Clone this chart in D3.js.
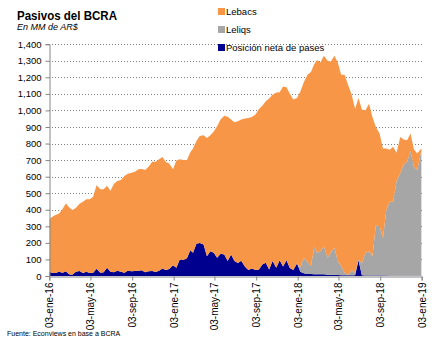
<!DOCTYPE html>
<html>
<head>
<meta charset="utf-8">
<title>Pasivos del BCRA</title>
<script src="https://cdn.jsdelivr.net/npm/d3@7"></script>
<style>
body { margin: 0; background: #fff; font-family: "Liberation Sans", Arial, sans-serif; }
</style>
</head>
<body>
<svg id="chart" width="445" height="340"></svg>
<script>
// fechas de muestreo (1, 11 y 21 de cada mes)
const dates = [
  "2016-01-04","2016-01-11","2016-01-21","2016-02-01","2016-02-11","2016-02-21",
  "2016-03-01","2016-03-11","2016-03-21","2016-04-01","2016-04-11","2016-04-21",
  "2016-05-01","2016-05-11","2016-05-21","2016-06-01","2016-06-11","2016-06-21",
  "2016-07-01","2016-07-11","2016-07-21","2016-08-01","2016-08-11","2016-08-21",
  "2016-09-01","2016-09-11","2016-09-21","2016-10-01","2016-10-11","2016-10-21",
  "2016-11-01","2016-11-11","2016-11-21","2016-12-01","2016-12-11","2016-12-21",
  "2017-01-01","2017-01-11","2017-01-21","2017-02-01","2017-02-11","2017-02-21",
  "2017-03-01","2017-03-11","2017-03-21","2017-04-01","2017-04-11","2017-04-21",
  "2017-05-01","2017-05-11","2017-05-21","2017-06-01","2017-06-11","2017-06-21",
  "2017-07-01","2017-07-11","2017-07-21","2017-08-01","2017-08-11","2017-08-21",
  "2017-09-01","2017-09-11","2017-09-21","2017-10-01","2017-10-11","2017-10-21",
  "2017-11-01","2017-11-11","2017-11-21","2017-12-01","2017-12-11","2017-12-21",
  "2018-01-01","2018-01-11","2018-01-21","2018-02-01","2018-02-11","2018-02-21",
  "2018-03-01","2018-03-11","2018-03-21","2018-04-01","2018-04-11","2018-04-21",
  "2018-05-01","2018-05-11","2018-05-21","2018-06-01","2018-06-11","2018-06-21",
  "2018-07-01","2018-07-11","2018-07-21","2018-08-01","2018-08-11","2018-08-21",
  "2018-09-01","2018-09-11","2018-09-21","2018-10-01","2018-10-11","2018-10-21",
  "2018-11-01","2018-11-11","2018-11-21","2018-12-01","2018-12-11","2018-12-21",
  "2019-01-02"
];

// miles de millones de AR$
const lebacs = [
  319,338,350,353,385,411, 405,391,385,407,430,437, 445,458,504,504,502,495,
  489,533,542,554,584,586, 596,600,612,612,618,632, 660,666,673,672,652,638,
  580,648,605,603,593,593, 630,620,645,660,713,700, 732,795,810,838,872,815,
  838,857,853,896,919,914, 939,968,958,976,1032,1004, 1058,1015,1087,1045,1052,1030,
  1000,1060,1060,1130,1172,1105, 1165,1140,1150,1190,1150,1160, 1200,1155,1195,1142,1059,992,
  975,930,860,890,840,595, 560,540,370,313,331,170, 220,150,130,105,105,100,
  11
];
const leliqs = [
  0,0,0,0,0,0, 0,0,0,0,0,0, 0,0,0,0,0,0,
  0,0,0,0,0,0, 0,0,0,0,0,0, 0,0,0,0,0,0,
  0,0,0,0,0,0, 0,0,0,0,0,0, 0,0,0,0,0,0,
  0,0,0,0,0,0, 0,0,0,0,0,0, 0,0,0,0,0,0,
  0,30,94,73,48,165, 130,140,170,102,137,162, 84,55,15,4,32,13,
  5,70,137,147,117,302, 297,227,397,447,447,573, 618,673,688,753,658,638,
  758
];
const pases = [
  26,18,18,25,20,28, 10,8,25,30,18,26, 18,20,44,20,22,50,
  26,22,32,26,20,32, 28,30,32,34,22,28, 30,24,32,46,36,42,
  65,50,100,97,107,155, 140,195,200,190,120,150, 140,110,135,130,90,130,
  90,78,92,56,36,46, 36,40,70,80,40,90, 50,95,58,95,48,36,
  75,25,16,12,12,10, 10,10,10,8,8,8, 6,5,5,4,4,5,
  95,5,3,3,3,3, 3,3,3,2,2,2, 2,2,2,2,2,2,
  2
];

const yTicks = [0,100,200,300,400,500,600,700,800,900,1000,1100,1200,1300,1400];
const xTickDates = ["2016-01-03","2016-05-03","2016-09-03","2017-01-03","2017-05-03",
  "2017-09-03","2018-01-03","2018-05-03","2018-09-03","2019-01-03"];
const xTickLabels = ["03-ene-16","03-may-16","03-sep-16","03-ene-17","03-may-17",
  "03-sep-17","03-ene-18","03-may-18","03-sep-18","03-ene-19"];
const seriesNames = ["Lebacs","Leliqs","Posición neta de pases"];
const seriesColours = ["#F79646","#A6A6A6","#00008E"];

const parse = d3.timeParse("%Y-%m-%d");
const svg = d3.select("#chart");

// tabla para d3.stack
const table = dates.map((d, i) => ({
  date: parse(d), pases: pases[i], leliqs: leliqs[i], lebacs: lebacs[i]
}));

const x = d3.scaleTime()
  .domain([parse("2016-01-03"), parse("2019-01-03")])
  .range([49.3, 421.7]);
const y = d3.scaleLinear().domain([0, 1400]).range([276, 44.2]);

// grilla punteada
svg.append("g").selectAll("line")
  .data(yTicks.filter(v => v > 0))
  .join("line")
  .attr("x1", 49).attr("x2", 422)
  .attr("y1", v => Math.round(y(v)) + 0.5).attr("y2", v => Math.round(y(v)) + 0.5)
  .attr("stroke", "#7f7f7f").attr("stroke-width", 1)
  .attr("stroke-dasharray", "1,2");

// areas apiladas: pases abajo, leliqs, lebacs arriba
const stack = d3.stack().keys(["pases", "leliqs", "lebacs"]);
const layers = stack(table);
const fills = { pases: seriesColours[2], leliqs: seriesColours[1], lebacs: seriesColours[0] };
const area = d3.area()
  .x(d => x(d.data.date))
  .y0(d => y(d[0]))
  .y1(d => y(d[1]));

svg.append("g").selectAll("path")
  .data(layers)
  .join("path")
  .attr("fill", d => fills[d.key])
  .attr("d", area);

// eje Y
const yAxis = d3.axisLeft(y)
  .tickValues(yTicks)
  .tickSize(4)
  .tickFormat(d3.format(","));
const gy = svg.append("g").attr("transform", "translate(49.5,0)").call(yAxis);
gy.select(".domain").attr("stroke", "#868686");
gy.selectAll(".tick line").attr("stroke", "#868686");
gy.selectAll(".tick text")
  .attr("font-family", "Liberation Sans, Arial, sans-serif")
  .attr("font-size", 9.5).attr("fill", "#000").attr("x", -8);

// eje X
const xAxis = d3.axisBottom(x)
  .tickValues(xTickDates.map(parse))
  .tickSize(4)
  .tickFormat((d, i) => xTickLabels[i]);
const gx = svg.append("g").attr("transform", "translate(0,276.5)").call(xAxis);
gx.select(".domain").attr("stroke", "#868686");
gx.selectAll(".tick line").attr("stroke", "#868686");
gx.selectAll(".tick text")
  .attr("font-family", "Liberation Sans, Arial, sans-serif")
  .attr("font-size", 10).attr("fill", "#000")
  .attr("text-anchor", "end")
  .attr("dy", null)
  .attr("transform", "translate(3.5,6) rotate(-90)")
  .attr("x", 0).attr("y", 0);

// titulo
svg.append("text")
  .attr("x", 17).attr("y", 19.5)
  .attr("font-family", "Liberation Sans, Arial, sans-serif")
  .attr("font-size", 13).attr("font-weight", "bold")
  .attr("textLength", 100).attr("lengthAdjust", "spacingAndGlyphs")
  .text("Pasivos del BCRA");
svg.append("text")
  .attr("x", 17).attr("y", 30)
  .attr("font-family", "Liberation Sans, Arial, sans-serif")
  .attr("font-size", 9).attr("font-style", "italic")
  .text("En MM de AR$");

// leyenda
const legend = svg.append("g").selectAll("g")
  .data(seriesNames)
  .join("g")
  .attr("transform", (d, i) => `translate(218,${8 + i * 18})`);
legend.append("rect")
  .attr("width", 7).attr("height", 7)
  .attr("fill", (d, i) => seriesColours[i]);
legend.append("text")
  .attr("x", 8).attr("y", 7)
  .attr("font-family", "Liberation Sans, Arial, sans-serif")
  .attr("font-size", 9.5)
  .text(d => d);

// fuente
svg.append("text")
  .attr("x", 7).attr("y", 336)
  .attr("font-family", "Liberation Sans, Arial, sans-serif")
  .attr("font-size", 7)
  .text("Fuente: Econviews en base a BCRA");
</script>
</body>
</html>
